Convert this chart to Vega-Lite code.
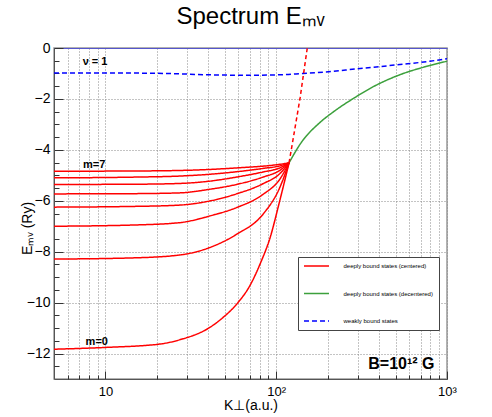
{
  "$schema": "https://vega.github.io/schema/vega-lite/v6.json",
  "width": 393,
  "height": 331,
  "padding": {"left": 20, "top": 5, "right": 5, "bottom": 5},
  "background": "white",
  "config": {
    "font": "Liberation Sans",
    "view": {"stroke": "#999999", "strokeWidth": 1.5},
    "axis": {"labelColor": "black", "titleColor": "black", "tickColor": "#333333", "domainColor": "#555555", "gridColor": "#888888", "gridDash": [1, 2], "gridWidth": 1, "gridOpacity": 1, "labelFlush": false, "labelFont": "Liberation Sans", "titleFont": "Liberation Sans", "titleFontWeight": "normal"},
    "legend": {"labelFont": "Liberation Sans"}
  },
  "title": {"text": "Spectrum Eₘᵥ", "fontSize": 24, "fontWeight": "normal", "anchor": "middle", "offset": 12, "color": "black", "font": "Liberation Sans"},
  "datasets": {
    "curves": [
      {"curve": "m7", "series": "deeply bound states (centered)", "K": 5, "E": -4.84},
      {"curve": "m7", "series": "deeply bound states (centered)", "K": 15, "E": -4.83},
      {"curve": "m7", "series": "deeply bound states (centered)", "K": 27.2, "E": -4.81},
      {"curve": "m7", "series": "deeply bound states (centered)", "K": 40.7, "E": -4.77},
      {"curve": "m7", "series": "deeply bound states (centered)", "K": 58.5, "E": -4.71},
      {"curve": "m7", "series": "deeply bound states (centered)", "K": 83.7, "E": -4.64},
      {"curve": "m7", "series": "deeply bound states (centered)", "K": 104.8, "E": -4.57},
      {"curve": "m7", "series": "deeply bound states (centered)", "K": 118.9, "E": -4.51},
      {"curve": "m6", "series": "deeply bound states (centered)", "K": 5, "E": -5.10},
      {"curve": "m6", "series": "deeply bound states (centered)", "K": 15, "E": -5.07},
      {"curve": "m6", "series": "deeply bound states (centered)", "K": 27.2, "E": -5.03},
      {"curve": "m6", "series": "deeply bound states (centered)", "K": 40.7, "E": -4.96},
      {"curve": "m6", "series": "deeply bound states (centered)", "K": 58.5, "E": -4.86},
      {"curve": "m6", "series": "deeply bound states (centered)", "K": 83.7, "E": -4.73},
      {"curve": "m6", "series": "deeply bound states (centered)", "K": 104.8, "E": -4.63},
      {"curve": "m6", "series": "deeply bound states (centered)", "K": 118.9, "E": -4.51},
      {"curve": "m5", "series": "deeply bound states (centered)", "K": 5, "E": -5.36},
      {"curve": "m5", "series": "deeply bound states (centered)", "K": 15, "E": -5.35},
      {"curve": "m5", "series": "deeply bound states (centered)", "K": 27.2, "E": -5.32},
      {"curve": "m5", "series": "deeply bound states (centered)", "K": 40.7, "E": -5.23},
      {"curve": "m5", "series": "deeply bound states (centered)", "K": 58.5, "E": -5.07},
      {"curve": "m5", "series": "deeply bound states (centered)", "K": 83.7, "E": -4.87},
      {"curve": "m5", "series": "deeply bound states (centered)", "K": 104.8, "E": -4.71},
      {"curve": "m5", "series": "deeply bound states (centered)", "K": 118.9, "E": -4.51},
      {"curve": "m4", "series": "deeply bound states (centered)", "K": 5, "E": -5.73},
      {"curve": "m4", "series": "deeply bound states (centered)", "K": 15, "E": -5.72},
      {"curve": "m4", "series": "deeply bound states (centered)", "K": 27.2, "E": -5.69},
      {"curve": "m4", "series": "deeply bound states (centered)", "K": 40.7, "E": -5.55},
      {"curve": "m4", "series": "deeply bound states (centered)", "K": 58.5, "E": -5.36},
      {"curve": "m4", "series": "deeply bound states (centered)", "K": 83.7, "E": -5.07},
      {"curve": "m4", "series": "deeply bound states (centered)", "K": 104.8, "E": -4.81},
      {"curve": "m4", "series": "deeply bound states (centered)", "K": 118.9, "E": -4.51},
      {"curve": "m3", "series": "deeply bound states (centered)", "K": 5, "E": -6.25},
      {"curve": "m3", "series": "deeply bound states (centered)", "K": 15, "E": -6.22},
      {"curve": "m3", "series": "deeply bound states (centered)", "K": 27.2, "E": -6.17},
      {"curve": "m3", "series": "deeply bound states (centered)", "K": 40.7, "E": -6.01},
      {"curve": "m3", "series": "deeply bound states (centered)", "K": 58.5, "E": -5.73},
      {"curve": "m3", "series": "deeply bound states (centered)", "K": 83.7, "E": -5.33},
      {"curve": "m3", "series": "deeply bound states (centered)", "K": 104.8, "E": -4.94},
      {"curve": "m3", "series": "deeply bound states (centered)", "K": 118.9, "E": -4.51},
      {"curve": "m2", "series": "deeply bound states (centered)", "K": 5, "E": -7.00},
      {"curve": "m2", "series": "deeply bound states (centered)", "K": 15, "E": -6.95},
      {"curve": "m2", "series": "deeply bound states (centered)", "K": 27.2, "E": -6.86},
      {"curve": "m2", "series": "deeply bound states (centered)", "K": 40.7, "E": -6.60},
      {"curve": "m2", "series": "deeply bound states (centered)", "K": 58.5, "E": -6.27},
      {"curve": "m2", "series": "deeply bound states (centered)", "K": 83.7, "E": -5.75},
      {"curve": "m2", "series": "deeply bound states (centered)", "K": 104.8, "E": -5.16},
      {"curve": "m2", "series": "deeply bound states (centered)", "K": 118.9, "E": -4.51},
      {"curve": "m1", "series": "deeply bound states (centered)", "K": 5, "E": -8.29},
      {"curve": "m1", "series": "deeply bound states (centered)", "K": 15, "E": -8.24},
      {"curve": "m1", "series": "deeply bound states (centered)", "K": 27.2, "E": -8.13},
      {"curve": "m1", "series": "deeply bound states (centered)", "K": 40.7, "E": -7.84},
      {"curve": "m1", "series": "deeply bound states (centered)", "K": 58.5, "E": -7.32},
      {"curve": "m1", "series": "deeply bound states (centered)", "K": 83.7, "E": -6.53},
      {"curve": "m1", "series": "deeply bound states (centered)", "K": 104.8, "E": -5.49},
      {"curve": "m1", "series": "deeply bound states (centered)", "K": 118.9, "E": -4.51},
      {"curve": "m0", "series": "deeply bound states (centered)", "K": 5, "E": -11.83},
      {"curve": "m0", "series": "deeply bound states (centered)", "K": 10, "E": -11.76},
      {"curve": "m0", "series": "deeply bound states (centered)", "K": 20.7, "E": -11.63},
      {"curve": "m0", "series": "deeply bound states (centered)", "K": 27.2, "E": -11.46},
      {"curve": "m0", "series": "deeply bound states (centered)", "K": 40.7, "E": -10.98},
      {"curve": "m0", "series": "deeply bound states (centered)", "K": 48.7, "E": -10.59},
      {"curve": "m0", "series": "deeply bound states (centered)", "K": 59.7, "E": -10.0},
      {"curve": "m0", "series": "deeply bound states (centered)", "K": 69.9, "E": -9.35},
      {"curve": "m0", "series": "deeply bound states (centered)", "K": 81.9, "E": -8.36},
      {"curve": "m0", "series": "deeply bound states (centered)", "K": 91.6, "E": -7.50},
      {"curve": "m0", "series": "deeply bound states (centered)", "K": 104.8, "E": -6.01},
      {"curve": "m0", "series": "deeply bound states (centered)", "K": 118.9, "E": -4.51},
      {"curve": "dec", "series": "deeply bound states (decentered)", "K": 118.9, "E": -4.51},
      {"curve": "dec", "series": "deeply bound states (decentered)", "K": 140.6, "E": -3.70},
      {"curve": "dec", "series": "deeply bound states (decentered)", "K": 180, "E": -2.93},
      {"curve": "dec", "series": "deeply bound states (decentered)", "K": 215, "E": -2.52},
      {"curve": "dec", "series": "deeply bound states (decentered)", "K": 288, "E": -1.95},
      {"curve": "dec", "series": "deeply bound states (decentered)", "K": 370, "E": -1.52},
      {"curve": "dec", "series": "deeply bound states (decentered)", "K": 530, "E": -1.05},
      {"curve": "dec", "series": "deeply bound states (decentered)", "K": 761, "E": -0.72},
      {"curve": "dec", "series": "deeply bound states (decentered)", "K": 1000, "E": -0.52},
      {"curve": "weak", "series": "weakly bound states", "K": 5, "E": -0.98},
      {"curve": "weak", "series": "weakly bound states", "K": 10, "E": -0.98},
      {"curve": "weak", "series": "weakly bound states", "K": 22.7, "E": -1.0},
      {"curve": "weak", "series": "weakly bound states", "K": 39, "E": -1.05},
      {"curve": "weak", "series": "weakly bound states", "K": 70, "E": -1.07},
      {"curve": "weak", "series": "weakly bound states", "K": 109, "E": -1.05},
      {"curve": "weak", "series": "weakly bound states", "K": 143, "E": -1.0},
      {"curve": "weak", "series": "weakly bound states", "K": 195, "E": -0.94},
      {"curve": "weak", "series": "weakly bound states", "K": 295, "E": -0.82},
      {"curve": "weak", "series": "weakly bound states", "K": 530, "E": -0.65},
      {"curve": "weak", "series": "weakly bound states", "K": 794, "E": -0.52},
      {"curve": "weak", "series": "weakly bound states", "K": 1000, "E": -0.42}
    ],
    "extrap": [
      {"K": 118.9, "E": -4.51},
      {"K": 125.5, "E": -3.59},
      {"K": 138, "E": -1.96},
      {"K": 152, "E": 0}
    ],
    "labels": [
      {"K": 8.7, "E": -0.56, "text": "ν = 1"},
      {"K": 8.6, "E": -4.6, "text": "m=7"},
      {"K": 8.9, "E": -11.53, "text": "m=0"}
    ],
    "field": [
      {"K": 541, "E": -12.59, "text": "B=10¹² G"}
    ]
  },
  "layer": [
    {
      "data": {"name": "curves"},
      "mark": {"type": "line", "strokeWidth": 1.5, "interpolate": "monotone", "clip": true},
      "encoding": {
        "x": {"field": "K", "type": "quantitative", "scale": {"type": "log", "domain": [5, 1000], "nice": false},
          "axis": {"orient": "bottom", "values": [10, 100, 1000], "labelExpr": "datum.value == 10 ? '10' : (datum.value == 100 ? '10²' : '10³')", "tickSize": -8, "labelPadding": 14, "labelFontSize": 13, "grid": true, "title": "K⊥(a.u.)", "titleFontSize": 14, "titleY": 19, "titleBaseline": "top"}},
        "y": {"field": "E", "type": "quantitative", "scale": {"domain": [-13, 0], "nice": false},
          "axis": {"orient": "left", "values": [-12, -10, -8, -6, -4, -2, 0], "tickSize": -9, "labelPadding": 13, "labelFontSize": 14, "grid": true, "title": "Eₘᵥ (Ry)", "titleFontSize": 14, "titleAngle": 270, "titleX": -20, "titleY": 180, "titleAlign": "center", "titleBaseline": "bottom"}},
        "color": {"field": "series", "type": "nominal",
          "scale": {"domain": ["deeply bound states (centered)", "deeply bound states (decentered)", "weakly bound states"], "range": ["#ff0000", "#3ca03c", "#0000ff"]},
          "legend": {"orient": "none", "legendX": 244, "legendY": 209, "title": null, "symbolType": "M-6.25,0H6.25", "symbolSize": 16, "symbolStrokeWidth": 1.5, "symbolOffset": 9.5, "labelOffset": 24, "labelFontSize": 6, "labelColor": "black", "labelExpr": "datum.label + '    '", "rowPadding": 21.5, "padding": 6, "strokeColor": "#444444", "fillColor": "white"}},
        "strokeDash": {"field": "series", "type": "nominal",
          "scale": {"domain": ["deeply bound states (centered)", "deeply bound states (decentered)", "weakly bound states"], "range": [[1, 0], [1, 0], [5, 3]]},
          "legend": {"orient": "none", "legendX": 244, "legendY": 209, "title": null, "symbolType": "M-6.25,0H6.25", "symbolSize": 16, "symbolStrokeWidth": 1.5, "symbolOffset": 9.5, "labelOffset": 24, "labelFontSize": 6, "labelColor": "black", "labelExpr": "datum.label + '    '", "rowPadding": 21.5, "padding": 6, "strokeColor": "#444444", "fillColor": "white"}},
        "detail": {"field": "curve"}
      }
    },
    {
      "data": {"name": "extrap"},
      "mark": {"type": "line", "color": "#ff0000", "strokeWidth": 1.5, "strokeDash": [4, 3], "clip": true},
      "encoding": {
        "x": {"field": "K", "type": "quantitative", "scale": {"type": "log", "domain": [5, 1000], "nice": false},
          "axis": {"orient": "bottom", "values": [6, 7, 8, 9, 20, 30, 40, 50, 60, 70, 80, 90, 200, 300, 400, 500, 600, 700, 800, 900], "tickSize": -4, "labels": false, "domain": false, "grid": true, "title": null}},
        "y": {"field": "E", "type": "quantitative", "scale": {"domain": [-13, 0], "nice": false},
          "axis": {"orient": "left", "values": [-12.5, -11.5, -11, -10.5, -9.5, -9, -8.5, -7.5, -7, -6.5, -5.5, -5, -4.5, -3.5, -3, -2.5, -1.5, -1, -0.5], "tickSize": -5, "labels": false, "domain": false, "grid": false, "title": null}}
      }
    },
    {
      "data": {"name": "labels"},
      "mark": {"type": "text", "fontSize": 11, "fontWeight": "bold", "color": "black", "align": "center", "baseline": "middle", "font": "Liberation Sans"},
      "encoding": {
        "x": {"field": "K", "type": "quantitative", "scale": {"type": "log", "domain": [5, 1000], "nice": false},
          "axis": {"orient": "top", "domainColor": "#5555cc", "ticks": false, "labels": false, "grid": false, "title": null}},
        "y": {"field": "E", "type": "quantitative", "scale": {"domain": [-13, 0], "nice": false}, "axis": null},
        "text": {"field": "text"}
      }
    },
    {
      "data": {"name": "field"},
      "mark": {"type": "text", "fontSize": 16, "fontWeight": "bold", "color": "black", "align": "center", "baseline": "alphabetic", "font": "Liberation Sans"},
      "encoding": {
        "x": {"field": "K", "type": "quantitative", "scale": {"type": "log", "domain": [5, 1000], "nice": false}, "axis": null},
        "y": {"field": "E", "type": "quantitative", "scale": {"domain": [-13, 0], "nice": false}, "axis": null},
        "text": {"field": "text"}
      }
    }
  ],
  "resolve": {"axis": {"x": "independent", "y": "independent"}}
}
